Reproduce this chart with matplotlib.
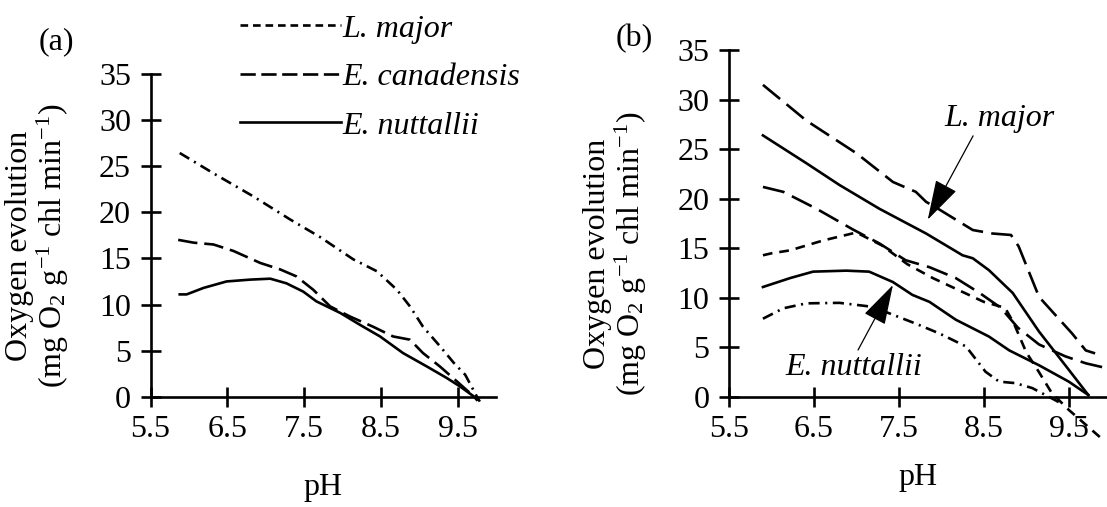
import matplotlib
matplotlib.use("Agg")
import matplotlib.pyplot as plt
from matplotlib.lines import Line2D

plt.rcParams['font.family'] = ['Liberation Serif', 'DejaVu Serif']
plt.rcParams['mathtext.fontset'] = 'custom'
plt.rcParams['mathtext.rm'] = 'Liberation Serif'
plt.rcParams['mathtext.it'] = 'Liberation Serif:italic'
plt.rcParams['lines.scale_dashes'] = False
FS = 23

# ---- panel (a) ----
a_lmaj_ph = [5.88, 6.32, 6.84, 7.32, 7.71, 8.14, 8.45, 8.71, 8.88, 9.05, 9.27, 9.45, 9.60, 9.75, 9.79]
a_lmaj_o2 = [26.4, 24.2, 21.7, 19.2, 17.3, 14.9, 13.6, 11.6, 9.8, 7.6, 5.5, 3.7, 2.4, 0.07, -0.5]

a_ecan_ph = [5.86, 6.06, 6.32, 6.58, 6.93, 7.19, 7.40, 7.62, 7.84, 8.10, 8.40, 8.66, 8.88, 9.05, 9.27, 9.49, 9.71, 9.77]
a_ecan_o2 = [17.0, 16.7, 16.5, 15.8, 14.5, 13.8, 13.05, 11.6, 9.8, 8.7, 7.6, 6.55, 6.2, 4.75, 3.3, 1.7, 0.07, -0.3]

a_enut_ph = [5.88, 5.97, 6.19, 6.49, 6.80, 7.06, 7.27, 7.49, 7.66, 7.97, 8.23, 8.49, 8.79, 9.10, 9.36, 9.53, 9.71, 9.75]
a_enut_o2 = [11.1, 11.1, 11.8, 12.5, 12.7, 12.8, 12.3, 11.4, 10.35, 9.1, 7.8, 6.55, 4.75, 3.3, 2.05, 1.15, 0.07, -0.3]

# ---- panel (b) ----
b_ecan_hi_ph = [5.90, 6.41, 7.00, 7.43, 7.70, 7.82, 7.98, 8.37, 8.60, 8.82, 8.91, 9.15, 9.54, 9.70, 9.81]
b_ecan_hi_o2 = [31.5, 27.9, 24.6, 21.7, 20.7, 19.7, 18.9, 16.85, 16.5, 16.35, 15.2, 10.1, 6.4, 4.7, 4.4]

b_ecan_lo_ph = [5.90, 6.14, 6.53, 6.96, 7.27, 7.58, 7.86, 8.17, 8.45, 8.70, 8.90, 9.15, 9.46, 9.70, 9.90]
b_ecan_lo_o2 = [21.2, 20.7, 19.0, 16.9, 15.5, 13.8, 13.1, 12.0, 10.5, 9.0, 7.0, 5.3, 4.1, 3.4, 3.0]

b_enut_hi_ph = [5.90, 6.41, 6.80, 7.27, 7.82, 8.25, 8.37, 8.56, 8.84, 9.15, 9.45, 9.73]
b_enut_hi_o2 = [26.4, 23.6, 21.4, 19.0, 16.5, 14.3, 14.0, 12.8, 10.5, 6.6, 3.3, 0.2]

b_enut_lo_ph = [5.90, 6.22, 6.49, 6.88, 7.15, 7.43, 7.66, 7.86, 8.17, 8.56, 8.80, 9.15, 9.50, 9.73]
b_enut_lo_o2 = [11.1, 12.0, 12.65, 12.75, 12.65, 11.6, 10.3, 9.6, 7.8, 6.1, 4.7, 3.2, 1.55, 0.2]

b_lmaj_hi_ph = [5.90, 6.00, 6.22, 6.61, 7.00, 7.30, 7.60, 7.90, 8.20, 8.50, 8.75, 8.85, 9.00, 9.15, 9.30, 9.50, 9.90]
b_lmaj_hi_o2 = [14.3, 14.5, 14.8, 15.8, 16.6, 15.3, 13.4, 12.0, 10.8, 9.6, 9.0, 7.5, 4.5, 2.5, 0.4, -1.3, -4.3]

b_lmaj_lo_ph = [5.90, 6.14, 6.41, 6.80, 7.19, 7.43, 7.70, 7.98, 8.29, 8.52, 8.68, 8.87, 9.07, 9.27, 9.40]
b_lmaj_lo_o2 = [7.9, 8.95, 9.45, 9.5, 9.1, 8.3, 7.4, 6.4, 5.1, 2.55, 1.55, 1.4, 0.9, 0.0, -0.6]

yticks = [0, 5, 10, 15, 20, 25, 30, 35]
xticks = [5.5, 6.5, 7.5, 8.5, 9.5]
ylab = "Oxygen evolution\n(mg O$_2$ g$^{-1}$ chl min$^{-1}$)"

LW = 1.9
dotdash = (8, 4, 1.5, 4)
longdash = (14, 5)
shortdash = (7, 5)

fig = plt.figure(figsize=(11.07, 5.07), dpi=100)
ax1 = fig.add_axes([0.136, 0.217, 0.312, 0.638])
ax2 = fig.add_axes([0.6585, 0.217, 0.3415, 0.684])


def style_axis(ax, xmax):
    ax.set_xlim(5.5, xmax)
    ax.set_ylim(0, 35)
    ax.set_xticks(xticks)
    ax.set_xticklabels([str(t) for t in xticks])
    ax.set_yticks(yticks)
    for s in ["top", "right"]:
        ax.spines[s].set_visible(False)
    for s in ["left", "bottom"]:
        ax.spines[s].set_linewidth(1.9)
    ax.tick_params(direction="inout", length=14, width=1.9, labelsize=FS)
    ax.tick_params(axis="y", pad=7)
    ax.tick_params(axis="x", pad=6)
    ax.set_xlabel("pH", fontsize=FS)
    ax.patch.set_visible(False)


style_axis(ax1, 10.0)
ax1.plot(a_lmaj_ph, a_lmaj_o2, color="k", lw=LW, dashes=dotdash, clip_on=False)
ax1.plot(a_ecan_ph, a_ecan_o2, color="k", lw=LW, dashes=longdash, clip_on=False)
ax1.plot(a_enut_ph, a_enut_o2, color="k", lw=LW, clip_on=False)
ax1.xaxis.set_label_coords(0.5, -0.28)
ax1.xaxis.label.set_va("center")

style_axis(ax2, 9.95)
ax2.plot(b_ecan_hi_ph, b_ecan_hi_o2, color="k", lw=LW, dashes=(16, 6), clip_on=False)
ax2.plot(b_ecan_lo_ph, b_ecan_lo_o2, color="k", lw=LW, dashes=(16, 6), clip_on=False)
ax2.plot(b_enut_hi_ph, b_enut_hi_o2, color="k", lw=LW, clip_on=False)
ax2.plot(b_enut_lo_ph, b_enut_lo_o2, color="k", lw=LW, clip_on=False)
ax2.plot(b_lmaj_hi_ph, b_lmaj_hi_o2, color="k", lw=LW, dashes=shortdash, clip_on=False)
ax2.plot(b_lmaj_lo_ph, b_lmaj_lo_o2, color="k", lw=LW, dashes=dotdash, clip_on=False)
ax2.xaxis.set_label_coords(0.5, -0.233)
ax2.xaxis.label.set_va("center")

arrow = dict(arrowstyle="-|>,head_length=1.7,head_width=0.5", color="k", lw=0.9,
             mutation_scale=15, shrinkA=0, shrinkB=0)
ax2.annotate("L. major", xy=(7.84, 17.9), xytext=(8.69, 28.1), fontsize=FS,
             style="italic", ha="center", va="center",
             arrowprops=dict(arrow, relpos=(0.27, 0.0)))
ax2.annotate("E. nuttallii", xy=(7.43, 11.3), xytext=(6.97, 3.0), fontsize=FS,
             style="italic", ha="center", va="center",
             arrowprops=dict(arrow, relpos=(0.52, 1.0)))

# y labels and panel letters
fig.text(0.0343, 0.515, ylab, rotation=90, ha="center", va="center",
         fontsize=FS, multialignment="center", linespacing=1.0)
fig.text(0.5565, 0.50, ylab, rotation=90, ha="center", va="center",
         fontsize=FS, multialignment="center", linespacing=1.0)
fig.text(0.0506, 0.917, "(a)", ha="center", va="center", fontsize=FS)
fig.text(0.5727, 0.923, "(b)", ha="center", va="center", fontsize=FS)

handles = [
    Line2D([], [], color="k", lw=LW, dashes=(5.5, 3.5)),
    Line2D([], [], color="k", lw=LW, dashes=(11, 4)),
    Line2D([], [], color="k", lw=LW),
]
fig.legend(handles, ["L. major", "E. canadensis", "E. nuttallii"],
           loc="upper left", bbox_to_anchor=(0.217, 0.972), frameon=False,
           prop=dict(size=FS, style="italic"), handlelength=3.15,
           handletextpad=0.05, labelspacing=0.6, borderpad=0, borderaxespad=0)

fig.savefig("out.png", dpi=100)
